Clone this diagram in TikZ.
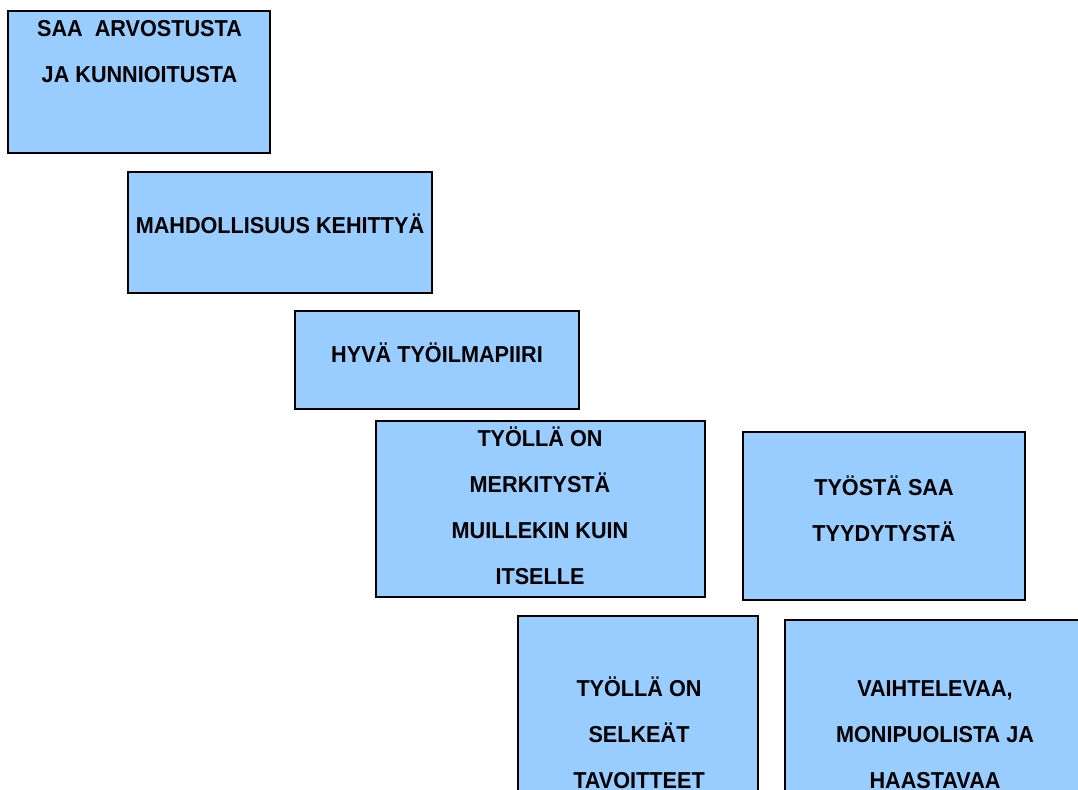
\documentclass[tikz,border=0pt]{standalone}
\usepackage{fontspec}
\setmainfont{Liberation Sans}[FakeStretch=0.94]
\usepackage{xcolor}
\definecolor{boxblue}{HTML}{99CCFF}

\begin{document}
\begin{tikzpicture}[x=0.02cm, y=-0.02cm,
  box/.style={draw=black, fill=boxblue, line width=0.85pt, inner sep=0pt},
  lbl/.style={align=center, inner sep=0pt, font=\fontsize{13.1}{26.2}\selectfont\bfseries}]
\clip (0,0) rectangle (1078,789);

% Boxes down the stairs
\node[box, minimum width=262*0.02cm, minimum height=142*0.02cm] (arvostus) at (139,82) {};
\node[lbl] (arvostusText) at (139.5,51.5) {SAA\ \ ARVOSTUSTA\\JA KUNNIOITUSTA};

\node[box, minimum width=304*0.02cm, minimum height=121*0.02cm] (kehitys) at (280,232.5) {};
\node[lbl] (kehitysText) at (280,224) {MAHDOLLISUUS KEHITTYÄ};

\node[box, minimum width=284*0.02cm, minimum height=98*0.02cm] (ilmapiiri) at (437,360) {};
\node[lbl] (ilmapiiriText) at (437,353) {HYVÄ TYÖILMAPIIRI};

\node[box, minimum width=329*0.02cm, minimum height=176*0.02cm] (merkitys) at (540.5,509) {};
\node[lbl] (merkitysText) at (540,506) {TYÖLLÄ ON\\MERKITYSTÄ\\MUILLEKIN KUIN\\ITSELLE};

\node[box, minimum width=240*0.02cm, minimum height=224*0.02cm] (tavoitteet) at (638,728) {};
\node[lbl] (tavoitteetText) at (639,733) {TYÖLLÄ ON\\SELKEÄT\\TAVOITTEET};

% Right column
\node[box, minimum width=282*0.02cm, minimum height=168*0.02cm] (tyytyvaisyys) at (884,516) {};
\node[lbl] (tyytyvaisyysText) at (884,508.5) {TYÖSTÄ SAA\\TYYDYTYSTÄ};

\node[box, minimum width=300*0.02cm, minimum height=220*0.02cm] (haaste) at (935,730) {};
\node[lbl] (haasteText) at (935,735) {VAIHTELEVAA,\\MONIPUOLISTA JA\\HAASTAVAA};
\end{tikzpicture}
\end{document}
